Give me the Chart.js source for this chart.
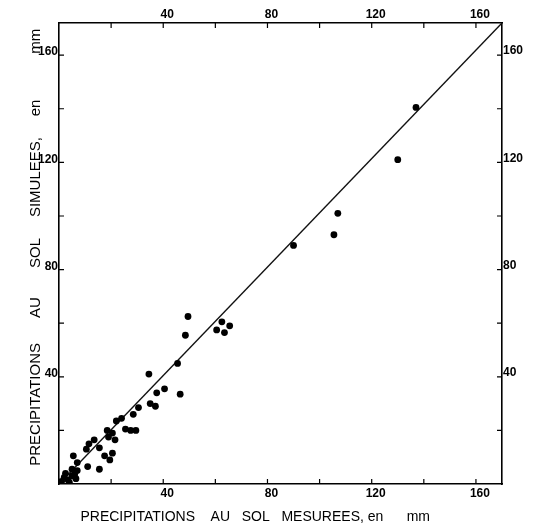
<!DOCTYPE html>
<html>
<head>
<meta charset="utf-8">
<script src="https://cdn.jsdelivr.net/npm/chart.js@4.4.1/dist/chart.umd.min.js"></script>
<style>
  body { margin: 0; background: #fff; }
  #wrap { width: 546px; height: 529px; }
</style>
</head>
<body>
<div id="wrap"><canvas id="scatterChart" width="546" height="529"></canvas></div>
<script>
// Valeurs (mm)
const measured = [137, 130, 107, 105.5, 90, 49.5, 48.5, 62.5, 65.5, 60.5, 63.5, 45.5, 40.5, 46.5, 34.5,
  37.5, 35, 37, 30.5, 28.5, 24, 22, 18.5, 20.5, 25.5, 27.5, 29.5, 19, 21.5, 13.5, 11.5, 10.5, 15.5, 17.5,
  20.5, 19.5, 11, 15.5, 5.5, 7, 5, 7, 2, 3.5, 5, 2.5, 6, 1, 4, 6.5, 0.5];
const simulated = [140.5, 121, 101, 93, 89, 62.5, 55.5, 60.5, 59, 57.5, 56.5, 45, 35.5, 33.5, 41,
  34, 30, 29, 28.5, 26, 24.5, 23.5, 20, 19, 20.5, 20, 20, 17.5, 16.5, 16.5, 15, 13, 13.5, 10.5,
  11.5, 9, 6.5, 5.5, 10.5, 8, 5.5, 5, 2.5, 1.5, 3, 4, 3.5, 1, 0.5, 2, 0];

// Droite tracée
const lineX = [0, 170];
const lineY = [0, 172];

// Axes
const xMax = 170;
const yMax = 172;
const tickValues = [20, 40, 60, 80, 100, 120, 140, 160];

const NB = "\u00A0";
const sp = (n) => NB.repeat(n);
const xTitle = "PRECIPITATIONS" + sp(4) + "AU" + sp(3) + "SOL" + sp(3) + "MESUREES," + sp(1) + "en" + sp(6) + "mm" + sp(13);
const yTitle = sp(3) + "PRECIPITATIONS" + sp(6) + "AU" + sp(7) + "SOL" + sp(5) + "SIMULEES," + sp(5) + "en" + sp(11) + "mm";

const tickFont = { family: "'Liberation Sans Narrow', 'Liberation Sans', Arial, sans-serif", size: 12, weight: "bold" };
const titleFamily = "'Liberation Sans', Arial, sans-serif";

const labelOf = (v) => (v % 40 === 0 ? String(v) : "");

function axis(pos, max, extra) {
  return Object.assign({
    type: "linear",
    position: pos,
    min: 0,
    max: max,
    afterBuildTicks: (s) => { s.ticks = tickValues.map((v) => ({ value: v })); },
    grid: { display: false, drawTicks: false },
    border: { display: true, color: "#000", width: 1.6 },
  }, extra);
}

function tickOpts(padding, labelOffset) {
  return { autoSkip: false, maxRotation: 0, color: "#000", font: tickFont, callback: labelOf, padding: padding, labelOffset: labelOffset };
}

// Petits traits vers l'intérieur
const innerTicks = {
  id: "innerTicks",
  afterDatasetsDraw(chart) {
    const { ctx, chartArea: a, scales } = chart;
    const len = 5;
    ctx.save();
    ctx.strokeStyle = "#000";
    ctx.lineWidth = 1.2;
    ctx.beginPath();
    tickValues.forEach((v) => {
      const bx = scales.x.getPixelForValue(v);
      ctx.moveTo(bx, a.bottom); ctx.lineTo(bx, a.bottom - len);
      const tx = scales.x2.getPixelForValue(v);
      ctx.moveTo(tx, a.top); ctx.lineTo(tx, a.top + len);
      const ly = scales.y.getPixelForValue(v);
      ctx.moveTo(a.left, ly); ctx.lineTo(a.left + len, ly);
      const ry = scales.y2.getPixelForValue(v);
      ctx.moveTo(a.right, ry); ctx.lineTo(a.right - len, ry);
    });
    ctx.stroke();
    ctx.restore();
  },
};

const ctx = document.getElementById("scatterChart").getContext("2d");
new Chart(ctx, {
  type: "scatter",
  data: {
    datasets: [
      {
        label: "stations",
        data: measured.map((m, i) => ({ x: m, y: simulated[i] })),
        backgroundColor: "#000",
        borderColor: "#000",
        pointRadius: 3.4,
        pointBorderWidth: 0,
        xAxisID: "x",
        yAxisID: "y",
      },
      {
        type: "line",
        label: "droite",
        data: lineX.map((x, i) => ({ x: x, y: lineY[i] })),
        borderColor: "#111",
        borderWidth: 1.4,
        pointRadius: 0,
        fill: false,
        xAxisID: "x",
        yAxisID: "y",
      },
    ],
  },
  options: {
    responsive: false,
    animation: false,
    layout: { padding: 0 },
    plugins: { legend: { display: false }, tooltip: { enabled: false } },
    scales: {
      x: axis("bottom", xMax, {
        afterFit: (s) => { s.height = 45; },
        ticks: tickOpts(2, 4),
        title: { display: true, text: xTitle, color: "#000", font: { family: titleFamily, size: 14 }, padding: { top: 0, bottom: 3 } },
      }),
      x2: axis("top", xMax, {
        axis: "x",
        afterFit: (s) => { s.height = 23; },
        ticks: tickOpts(1, 4),
      }),
      y: axis("left", yMax, {
        afterFit: (s) => { s.width = 59; },
        ticks: tickOpts(1, -3),
        title: { display: true, text: yTitle, color: "#000", font: { family: titleFamily, size: 15 }, padding: { top: 27, bottom: 0 } },
      }),
      y2: axis("right", yMax, {
        axis: "y",
        afterFit: (s) => { s.width = 44; },
        ticks: tickOpts(1, -4),
      }),
    },
  },
  plugins: [innerTicks],
});
</script>
</body>
</html>
